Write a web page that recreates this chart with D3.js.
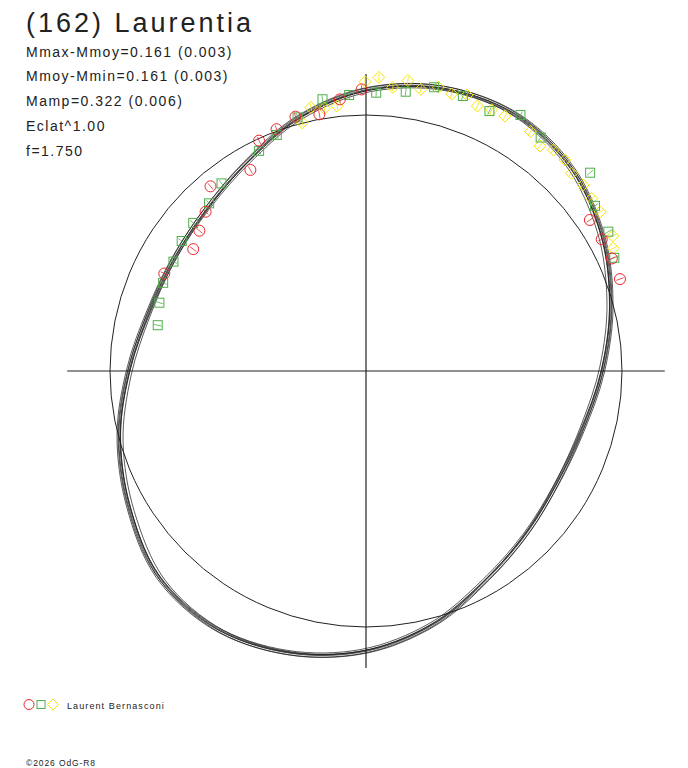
<!DOCTYPE html>
<html>
<head>
<meta charset="utf-8">
<script src="https://cdn.jsdelivr.net/npm/d3@7"></script>
<style>
  body { margin: 0; background: #fff; }
  svg { display: block; }
  text { font-family: "Liberation Sans", Arial, sans-serif; fill: #222; }
</style>
</head>
<body>
<svg id="chart" width="688" height="768"></svg>
<script>
// courbe ajustée : phase (degrés, sens horaire depuis le haut) et rayon relatif au cercle moyen
var curvePhase  = [0, 15, 30, 45, 60, 75, 90, 105, 120, 135, 150, 165,
                   180, 195, 210, 225, 240, 255, 270, 285, 300, 315, 330, 345];
var curveRadius = [1.098, 1.145, 1.160, 1.129, 1.063, 0.988, 0.922, 0.875, 0.865, 0.891, 0.941, 1.023,
                   1.094, 1.141, 1.164, 1.141, 1.066, 0.996, 0.926, 0.879, 0.869, 0.887, 0.938, 1.023];

// mesures par session : [phase, rayon]
var sessionRed = [
  [349.7, 1.019], [344.5, 1.031], [339.7, 1.007], [335.1, 0.992], [330.1, 0.906],
  [319.9, 0.943], [314.8, 0.883], [310.1, 0.851], [305.2, 0.826], [295.8, 0.875],
  [354.5, 1.066], [359.1, 1.100], [56.0, 1.055], [60.8, 1.055], [65.4, 1.056], [70.1, 1.055]
];
var sessionGreen = [
  [350.9, 1.075], [344.9, 1.026], [339.3, 0.986], [334.1, 0.956], [322.4, 0.925],
  [316.9, 0.897], [310.6, 0.889], [305.2, 0.881], [299.6, 0.865], [293.5, 0.864],
  [288.3, 0.850], [282.4, 0.833], [356.5, 1.080], [2.1, 1.088], [8.1, 1.102],
  [13.5, 1.140], [19.4, 1.139], [25.4, 1.124], [31.1, 1.168], [36.8, 1.139],
  [48.5, 1.169], [54.2, 1.103], [60.1, 1.092], [65.5, 1.066]
];
var sessionYellow = [
  [348.2, 1.052], [351.0, 1.039], [345.6, 1.001], [353.8, 1.041], [359.8, 1.130],
  [2.5, 1.148], [5.4, 1.113], [8.2, 1.146], [11.0, 1.121], [14.3, 1.144],
  [17.2, 1.133], [20.1, 1.148], [22.8, 1.123], [25.7, 1.132], [28.6, 1.134],
  [34.5, 1.135], [37.7, 1.111], [40.3, 1.132], [43.3, 1.133], [46.1, 1.114],
  [49.4, 1.117], [52.6, 1.110], [55.8, 1.106], [61.3, 1.099], [63.6, 1.078]
];

var infoLines = ["Mmax-Mmoy=0.161 (0.003)", "Mmoy-Mmin=0.161 (0.003)",
                 "Mamp=0.322 (0.006)", "Eclat^1.00", "f=1.750"];

var svg = d3.select("#chart");
var cx = 366, cy = 371;

var r = d3.scaleLinear().domain([0, 1]).range([0, 256]);
var rad = function(deg) { return deg * Math.PI / 180; };

var g = svg.append("g").attr("transform", "translate(" + cx + "," + cy + ")");

// axes
g.append("line").attr("x1", -r(1.167)).attr("x2", r(1.167)).attr("y1", 0).attr("y2", 0)
  .attr("stroke", "#222").attr("stroke-width", 1.2);
g.append("line").attr("x1", 0).attr("x2", 0).attr("y1", -r(1.16)).attr("y2", r(1.16))
  .attr("stroke", "#222").attr("stroke-width", 1.2);

// cercle moyen
g.append("circle").attr("r", r(1)).attr("fill", "none")
  .attr("stroke", "#222").attr("stroke-width", 1);

// faisceau de courbes ajustées (décalages de tracé : [phase, px])
var curveData = curvePhase.map(function(p, i) { return { p: p, v: curveRadius[i] }; });
var bundle = [[-1.2, -2.0], [-0.6, 1.6], [0, -0.8], [0.5, 2.2], [1.1, 0.3], [-0.2, 0], [0.8, -1.8]];
bundle.forEach(function(b) {
  var line = d3.lineRadial()
    .angle(function(d) { return rad(d.p + b[0]); })
    .radius(function(d) { return r(d.v) + b[1]; })
    .curve(d3.curveCardinalClosed.tension(0));
  g.append("path").attr("d", line(curveData))
    .attr("fill", "none").attr("stroke", "#1a1a1a").attr("stroke-width", 0.9)
    .attr("stroke-opacity", 0.8);
});

// marqueurs
var red = "#e8262e", green = "#4fae4a", yellow = "#f5e400";

function tick(sel, color) {
  sel.append("line")
    .attr("x1", function(d) { return d3.pointRadial(rad(d[0]), r(d[1]) - 4)[0]; })
    .attr("y1", function(d) { return d3.pointRadial(rad(d[0]), r(d[1]) - 4)[1]; })
    .attr("x2", function(d) { return d3.pointRadial(rad(d[0]), r(d[1]) + 4)[0]; })
    .attr("y2", function(d) { return d3.pointRadial(rad(d[0]), r(d[1]) + 4)[1]; })
    .attr("stroke", color).attr("stroke-width", 0.8);
}

var gy = g.append("g").selectAll("g").data(sessionYellow).enter().append("g");
gy.append("path")
  .attr("transform", function(d) { var p = d3.pointRadial(rad(d[0]), r(d[1])); return "translate(" + p + ")"; })
  .attr("d", "M0,-6L6,0L0,6L-6,0Z")
  .attr("fill", "none").attr("stroke", yellow).attr("stroke-width", 1);
tick(gy, yellow);

var gg = g.append("g").selectAll("g").data(sessionGreen).enter().append("g");
gg.append("rect")
  .attr("x", function(d) { return d3.pointRadial(rad(d[0]), r(d[1]))[0] - 4.5; })
  .attr("y", function(d) { return d3.pointRadial(rad(d[0]), r(d[1]))[1] - 4.5; })
  .attr("width", 9).attr("height", 9)
  .attr("fill", "none").attr("stroke", green).attr("stroke-width", 1);
tick(gg, green);

var gr = g.append("g").selectAll("g").data(sessionRed).enter().append("g");
gr.append("circle")
  .attr("cx", function(d) { return d3.pointRadial(rad(d[0]), r(d[1]))[0]; })
  .attr("cy", function(d) { return d3.pointRadial(rad(d[0]), r(d[1]))[1]; })
  .attr("r", 5.5)
  .attr("fill", "none").attr("stroke", red).attr("stroke-width", 1);
tick(gr, red);

// titre et informations
svg.append("text").attr("x", 26).attr("y", 32)
  .style("font-size", "27px").style("letter-spacing", "3px")
  .text("(162) Laurentia");

svg.selectAll(".info").data(infoLines).enter().append("text")
  .attr("class", "info")
  .attr("x", 26).attr("y", function(d, i) { return 56.5 + i * 24.8; })
  .style("font-size", "14px").style("letter-spacing", "1.5px")
  .text(function(d) { return d; });

// légende
var leg = svg.append("g");
leg.append("circle").attr("cx", 29).attr("cy", 704.5).attr("r", 5)
  .attr("fill", "none").attr("stroke", red);
leg.append("rect").attr("x", 37).attr("y", 700.5).attr("width", 8).attr("height", 8)
  .attr("fill", "none").attr("stroke", green);
leg.append("path").attr("d", "M53,699L58.5,704.5L53,710L47.5,704.5Z")
  .attr("fill", "none").attr("stroke", yellow);
leg.append("text").attr("x", 67).attr("y", 708.5)
  .style("font-size", "9px").style("letter-spacing", "1.1px")
  .text("Laurent Bernasconi");

svg.append("text").attr("x", 26).attr("y", 766)
  .style("font-size", "8.5px").style("letter-spacing", "0.9px")
  .text("©2026 OdG-R8");
</script>
</body>
</html>
